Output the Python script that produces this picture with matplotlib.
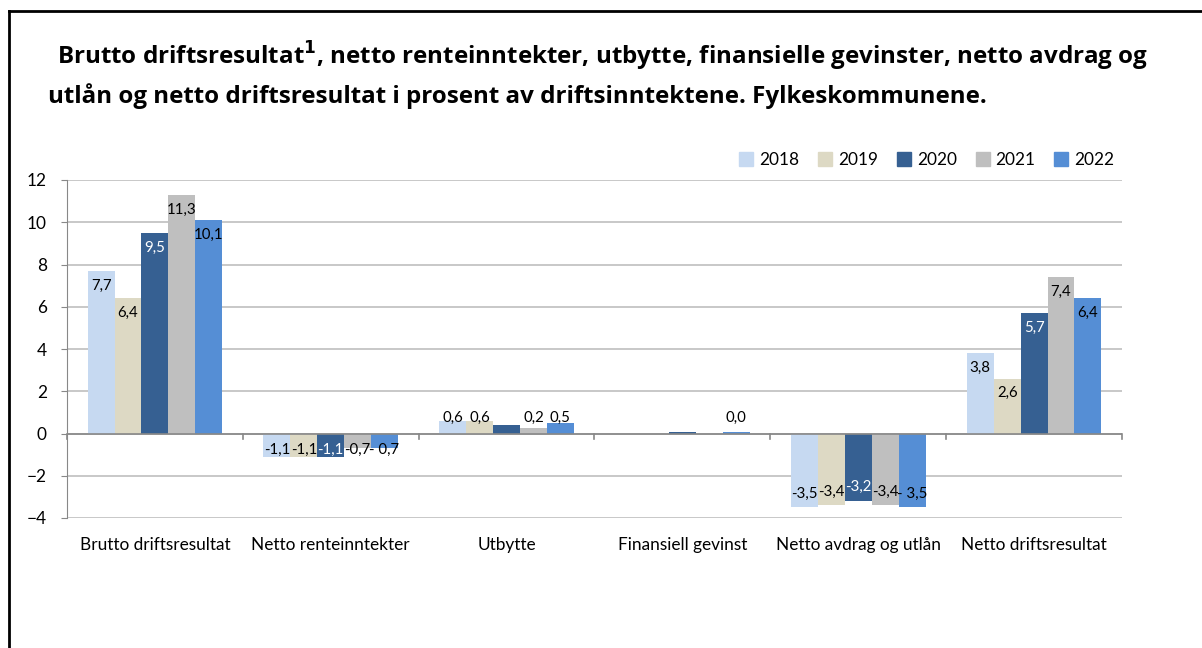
import matplotlib.pyplot as plt
import numpy as np
from matplotlib.lines import Line2D

plt.rcParams['font.family'] = ['Lato', 'DejaVu Sans']

# Data
categories = ['Brutto driftsresultat', 'Netto renteinntekter', 'Utbytte',
              'Finansiell gevinst', 'Netto avdrag og utlån', 'Netto driftsresultat']
years = ['2018', '2019', '2020', '2021', '2022']
v2018 = [7.7, -1.1, 0.6, 0.0, -3.5, 3.8]
v2019 = [6.4, -1.1, 0.6, 0.0, -3.4, 2.6]
v2020 = [9.5, -1.1, 0.4, 0.05, -3.2, 5.7]
v2021 = [11.3, -0.7, 0.25, 0.0, -3.4, 7.4]
v2022 = [10.1, -0.7, 0.5, 0.05, -3.5, 6.4]
# labels as printed in the chart ('' = no label shown)
lab2018 = ['7,7', '-1,1', '0,6', '', '-3,5', '3,8']
lab2019 = ['6,4', '-1,1', '0,6', '', '-3,4', '2,6']
lab2020 = ['9,5', '-1,1', '', '', '-3,2', '5,7']
lab2021 = ['11,3', '-0,7', '0,2', '', '-3,4', '7,4']
lab2022 = ['10,1', '- 0,7', '0,5', '0,0', '- 3,5', '6,4']

series = [v2018, v2019, v2020, v2021, v2022]
labels = [lab2018, lab2019, lab2020, lab2021, lab2022]
colors = ['#C6D9F1', '#DDD9C4', '#366092', '#BFBFBF', '#558ED5']
text_colors = ['black', 'black', 'white', 'black', 'black']

fig = plt.figure(figsize=(12.02, 6.48), dpi=100)
ax = fig.add_axes([67 / 1202, 1 - 518 / 648, (1122 - 67) / 1202, 338 / 648])

x = np.arange(len(categories))
w = 0.153
for i, (vals, labs) in enumerate(zip(series, labels)):
    xs = x + (i - 2) * w
    ax.bar(xs, vals, width=w, color=colors[i], zorder=3)
    for xi, v, t in zip(xs, vals, labs):
        if not t:
            continue
        if v >= 0:
            ty = max(v - 0.7, 0.72)
        else:
            ty = min(v + 0.65, -0.78)
        ax.text(xi, ty, t, ha='center', va='center', fontsize=10.8,
                color=text_colors[i], zorder=4)

ax.set_xlim(-0.5, len(categories) - 0.5)
ax.set_ylim(-4, 12)
ax.set_yticks(np.arange(-4, 13, 2))
ax.yaxis.grid(True, color='#BFBFBF', linewidth=1.2, zorder=0)
ax.tick_params(axis='y', length=4.5, color='#888888', labelsize=12.4, pad=10)
ax.set_xticks([])
for s in ['top', 'right', 'bottom']:
    ax.spines[s].set_visible(False)
ax.spines['left'].set_color('#888888')

# zero axis with category separators
ax.axhline(0, color='#888888', linewidth=1.2, zorder=5)
for b in np.arange(-0.5, len(categories), 1.0):
    ax.plot([b, b], [0, -0.25], color='#888888', linewidth=1.2, zorder=5, clip_on=False)
for xi, c in zip(x, categories):
    ax.text(xi, -5.3, c, ha='center', va='center', fontsize=12.4)

handles = [Line2D([], [], marker='s', linestyle='', markersize=10,
                  markerfacecolor=c, markeredgecolor=c) for c in colors]
fig.legend(handles, years, loc='center right', bbox_to_anchor=(0.937, 0.753),
           ncol=5, frameon=False, fontsize=12.4, handletextpad=0.3,
           columnspacing=1.05, handlelength=0.9, borderpad=0.2)

title_font = ['Open Sans', 'DejaVu Sans']
fig.text(57 / 1202, 1 - 56 / 648,
         r'Brutto driftsresultat$^{\mathbf{1}}$, netto renteinntekter, utbytte, finansielle gevinster, netto avdrag og',
         fontsize=17.4, fontweight='bold', va='center', ha='left', family=title_font)
fig.text(48 / 1202, 1 - 96 / 648,
         'utlån og netto driftsresultat i prosent av driftsinntektene. Fylkeskommunene.',
         fontsize=17.4, fontweight='bold', va='center', ha='left', family=title_font)

# frame
fig.add_artist(Line2D([9 / 1202, 1.0], [1 - 11 / 648] * 2, color='black', linewidth=2,
                      transform=fig.transFigure))
fig.add_artist(Line2D([9 / 1202] * 2, [0, 1 - 11 / 648], color='black', linewidth=2,
                      transform=fig.transFigure))

fig.savefig('out.png', dpi=100)
